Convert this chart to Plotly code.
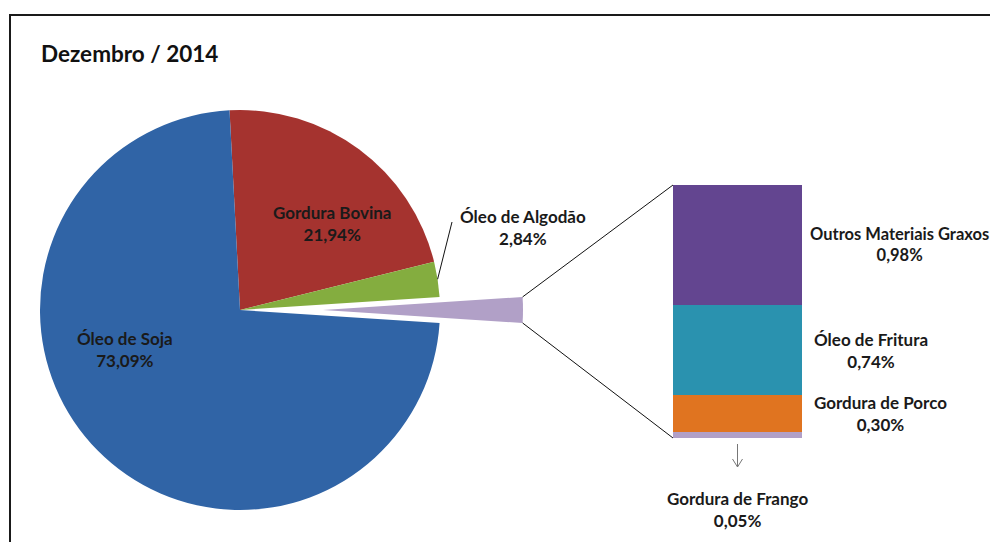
import math
import plotly.graph_objects as go

# Composition of raw materials, December 2014 (%)
main_labels = ["Gordura Bovina", "Óleo de Algodão", "Óleo de Soja"]
main_values = [21.94, 2.84, 73.09]

# Breakdown of the small slice, drawn as a stacked bar (bottom -> top)
detail_labels = ["Gordura de Frango", "Gordura de Porco", "Óleo de Fritura", "Outros Materiais Graxos"]
detail_values = [0.05, 0.30, 0.74, 0.98]

title_text = "Dezembro / 2014"

# ---- styling / layout ----
W, H = 990, 542
FONT = "Lato"
TXT = "#1a1a1a"
C_BOVINA, C_ALGODAO, C_SOJA = "#A5332F", "#84AD3F", "#3064A6"
C_OTHER = "#B1A0C7"
detail_colors = ["#B1A0C7", "#E07420", "#2A92AF", "#634590"]

PIE_CX, PIE_CY, PIE_R = 240, 310, 200     # pixels, y measured from the top
ROTATION = -3                              # first slice starts 3 deg left of 12 o'clock
EXPLODE = 83                               # pixels the small slice is pulled out
BAR_X0, BAR_X1, BAR_Y0, BAR_Y1 = 673, 802, 185, 438


def fmt(v):
    return f"{v:.2f}".replace(".", ",") + "%"


def px(x):
    return x / W


def py(y):
    return 1 - y / H


other_total = sum(detail_values)
pie_labels = [main_labels[0], main_labels[1], "Outros", main_labels[2]]
pie_values = [main_values[0], main_values[1], other_total, main_values[2]]
total = sum(pie_values)

# slice angles, degrees clockwise from 12 o'clock
starts, ends = [], []
acc = ROTATION
for v in pie_values:
    starts.append(acc)
    acc += v / total * 360
    ends.append(acc)


def on_circle(cx, cy, r, ang):
    a = math.radians(ang)
    return cx + r * math.sin(a), cy - r * math.cos(a)


mid_other = (starts[2] + ends[2]) / 2
cx2, cy2 = on_circle(PIE_CX, PIE_CY, EXPLODE, mid_other)


def domain_for(cx, cy, r):
    return dict(x=[px(cx - r), px(cx + r)], y=[py(cy + r), py(cy - r)])


CLEAR = "rgba(0,0,0,0)"
fig = go.Figure()

# main pie, with a gap where the pulled-out slice was
fig.add_trace(go.Pie(
    labels=pie_labels, values=pie_values, sort=False, direction="clockwise",
    rotation=ROTATION, textinfo="none", hoverinfo="skip", showlegend=False,
    marker=dict(colors=[C_BOVINA, C_ALGODAO, CLEAR, C_SOJA], line=dict(width=0)),
    domain=domain_for(PIE_CX, PIE_CY, PIE_R),
))
# the pulled-out slice
fig.add_trace(go.Pie(
    labels=pie_labels, values=pie_values, sort=False, direction="clockwise",
    rotation=ROTATION, textinfo="none", hoverinfo="skip", showlegend=False,
    marker=dict(colors=[CLEAR, CLEAR, C_OTHER, CLEAR], line=dict(width=0)),
    domain=domain_for(cx2, cy2, PIE_R),
))

# stacked bar with the breakdown
for lab, val, col in zip(detail_labels, detail_values, detail_colors):
    fig.add_trace(go.Bar(
        x=[0], y=[val], width=1, name=lab, marker=dict(color=col, line=dict(width=0)),
        hoverinfo="skip", showlegend=False,
    ))

label_font = dict(family=FONT, size=17, color=TXT, weight="bold")


def centred(text, x, y, **kw):
    d = dict(text=text, x=x, y=y, xref="paper", yref="paper", xanchor="center",
             yanchor="middle", showarrow=False, align="center", font=label_font)
    d.update(kw)
    return d


annotations = [
    dict(text=title_text, x=px(39), y=py(53), xref="paper", yref="paper",
         xanchor="left", yanchor="middle", showarrow=False,
         font=dict(family=FONT, size=22.5, color="#111", weight="bold")),
    centred(f"{main_labels[0]}<br>{fmt(main_values[0])}", px(332), py(223)),
    centred(f"{main_labels[1]}<br>{fmt(main_values[1])}", px(523), py(227)),
    centred(f"{main_labels[2]}<br>{fmt(main_values[2])}", px(125), py(349)),
]

# bar labels: right of the bar, centred on each segment
cum = 0
for i, (lab, val) in enumerate(zip(detail_labels, detail_values)):
    mid = cum + val / 2
    cum += val
    if i == 0:
        annotations.append(centred(f"{lab}<br>{fmt(val)}", 0, py(509), xref="x"))
    elif i == len(detail_values) - 1:
        # longest label: slightly smaller so it stays inside the frame
        annotations.append(centred(f"{lab}<br>{fmt(val)}", px(808), mid,
                                   yref="y", xanchor="left",
                                   font=dict(label_font, size=16.5)))
    else:
        annotations.append(centred(f"{lab}<br>{fmt(val)}", px(812), mid,
                                   yref="y", xanchor="left"))

# connector lines from the pulled slice to the bar
t_x, t_y = on_circle(cx2, cy2, PIE_R, starts[2])
b_x, b_y = on_circle(cx2, cy2, PIE_R, ends[2])
line_k = dict(color="#111", width=1)
shapes = [
    dict(type="line", xref="paper", yref="paper", x0=px(t_x), y0=py(t_y),
         x1=px(BAR_X0), y1=py(BAR_Y0), line=line_k),
    dict(type="line", xref="paper", yref="paper", x0=px(b_x), y0=py(b_y),
         x1=px(BAR_X0), y1=py(BAR_Y1), line=line_k),
]
# leader line for the cotton-oil label
la_x, la_y = on_circle(PIE_CX, PIE_CY, PIE_R, (starts[1] + ends[1]) / 2)
shapes.append(dict(type="line", xref="paper", yref="paper", x0=px(la_x), y0=py(la_y),
                   x1=px(452), y1=py(222), line=line_k))
# small arrow under the bar pointing to the chicken-fat label
ax = (BAR_X0 + BAR_X1) / 2
a0, a1 = BAR_Y1 + 6, BAR_Y1 + 29
arrow_path = (f"M {px(ax)},{py(a0)} L {px(ax)},{py(a1)} "
              f"M {px(ax - 5)},{py(a1 - 8)} L {px(ax)},{py(a1)} L {px(ax + 5)},{py(a1 - 8)}")
shapes.append(dict(type="path", xref="paper", yref="paper", path=arrow_path,
                   line=dict(color="#777", width=1)))
# chart frame
frame = dict(color="#1a1a1a", width=2)
shapes.append(dict(type="line", xref="paper", yref="paper", x0=px(9), y0=py(15),
                   x1=1, y1=py(15), line=frame))
shapes.append(dict(type="line", xref="paper", yref="paper", x0=px(10), y0=py(15),
                   x1=px(10), y1=0, line=frame))

fig.update_layout(
    width=W, height=H, margin=dict(l=0, r=0, t=0, b=0),
    paper_bgcolor="white", plot_bgcolor="rgba(0,0,0,0)",
    barmode="stack", bargap=0,
    xaxis=dict(domain=[px(BAR_X0), px(BAR_X1)], range=[-0.5, 0.5], visible=False, fixedrange=True),
    yaxis=dict(domain=[py(BAR_Y1), py(BAR_Y0)], range=[0, other_total], visible=False, fixedrange=True),
    annotations=annotations, shapes=shapes, showlegend=False,
)

fig.write_html("out.html")
